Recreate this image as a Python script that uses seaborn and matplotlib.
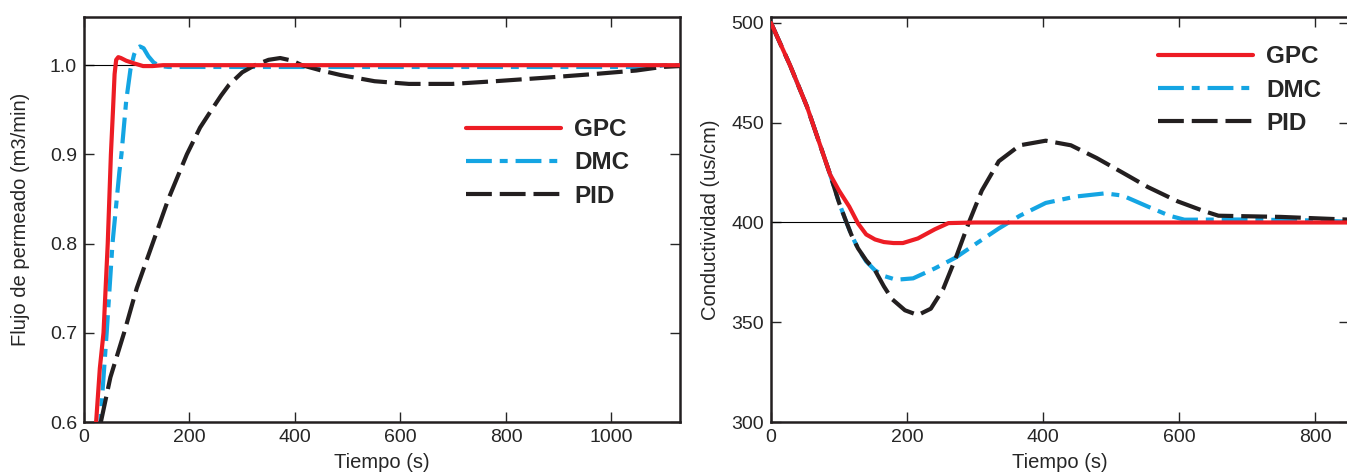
import numpy as np
import pandas as pd
import matplotlib
matplotlib.use("Agg")
import matplotlib.pyplot as plt
import seaborn as sns


# data
# left panel - flujo de permeado
t_gpc_f = [20, 23, 30, 37, 45, 51, 55, 58, 61, 65, 70, 80, 95, 112, 130, 150, 400, 800, 1130]
y_gpc_f = [0.58, 0.60, 0.66, 0.70, 0.80, 0.90, 0.95, 0.99, 1.006, 1.009, 1.008, 1.005, 1.002, 0.999, 0.999, 1.0, 1.0, 1.0, 1.0]

t_dmc_f = [28, 31, 37, 43, 54, 67, 71, 80, 88, 95, 100, 106, 113, 122, 132, 144, 160, 300, 600, 900, 1080, 1100, 1130]
y_dmc_f = [0.58, 0.60, 0.65, 0.70, 0.80, 0.88, 0.90, 0.96, 0.995, 1.012, 1.019, 1.021, 1.019, 1.01, 1.003, 0.999, 0.998, 0.998, 0.998, 0.998, 0.998, 1.0, 1.0]

t_pid_f = [32, 50, 76, 100, 130, 160, 195, 220, 242, 260, 275, 300, 324, 350, 372, 395, 413,
           450, 486, 551, 616, 698, 779, 876, 966, 1047, 1096, 1130]
y_pid_f = [0.60, 0.65, 0.70, 0.75, 0.80, 0.85, 0.90, 0.93, 0.95, 0.966, 0.978, 0.992, 1.0, 1.006, 1.008, 1.005, 1.0,
           0.994, 0.989, 0.982, 0.979, 0.979, 0.982, 0.986, 0.99, 0.994, 0.998, 0.999]

# right panel - conductividad
t_gpc_c = [0, 28, 53, 87, 100, 115, 128, 140, 153, 166, 180, 194, 216, 241, 261, 300, 500, 700, 860]
y_gpc_c = [500, 478.8, 458, 424, 416, 408, 399.5, 394, 391.5, 390.2, 389.7, 389.7, 392, 396.6, 399.7, 400, 400, 400, 400]

t_dmc_c = [0, 28, 53, 87, 100, 109, 118, 128, 140, 153, 168, 184, 209, 241, 272, 303, 335, 366, 404, 448,
           491, 517, 554, 586, 608, 700, 800, 860]
y_dmc_c = [500, 478.8, 458, 424, 410, 401.8, 394, 387, 380.5, 376, 373, 371.3, 372, 377, 382.5, 389.7, 397,
           403.4, 409.8, 413, 414.6, 413.5, 408, 403.4, 401.4, 401.5, 401, 400.3]

t_pid_c = [0, 28, 53, 87, 100, 109, 118, 128, 140, 153, 166, 178, 197, 216, 235, 253, 272, 291, 310, 335,
           366, 404, 441, 479, 517, 554, 598, 636, 658, 750, 860]
y_pid_c = [500, 478.8, 458, 424, 410, 401.8, 394, 387, 381, 376, 368, 361.6, 356, 353.6, 356.8, 366.5,
           382.5, 400, 416, 430.7, 438.7, 441, 438.7, 432.3, 425, 417.8, 410.6, 405.8, 403.4, 402.8, 401.3]

series = ["GPC", "DMC", "PID"]
colors = {"GPC": "#ED1C24", "DMC": "#14A5E3", "PID": "#231F20"}
styles = {"GPC": "-", "DMC": (0, (6.2, 1.9, 1.9, 1.9)), "PID": (0, (6.2, 1.9))}

flujo = {"GPC": (t_gpc_f, y_gpc_f), "DMC": (t_dmc_f, y_dmc_f), "PID": (t_pid_f, y_pid_f)}
cond = {"GPC": (t_gpc_c, y_gpc_c), "DMC": (t_dmc_c, y_dmc_c), "PID": (t_pid_c, y_pid_c)}


sns.set_theme(style="ticks", rc={
    "xtick.direction": "in", "ytick.direction": "in",
    "xtick.top": True, "ytick.right": True,
    "xtick.major.size": 7, "ytick.major.size": 7,
    "xtick.major.width": 1.0, "ytick.major.width": 1.0,
    "xtick.major.pad": 5, "ytick.major.pad": 5,
    "axes.linewidth": 1.8, "axes.edgecolor": "#231F20",
    "xtick.labelsize": 14, "ytick.labelsize": 14, "axes.labelsize": 14.5,
})
plt.rcParams["font.family"] = ["Liberation Sans", "DejaVu Sans"]

fig = plt.figure(figsize=(13.47, 4.73), dpi=100)
W, H = 1347, 473
ax1 = fig.add_axes([84 / W, (H - 422) / H, (680 - 84) / W, (422 - 17) / H])
ax2 = fig.add_axes([771 / W, (H - 422) / H, (1349 - 771) / W, (422 - 17) / H])

# left panel
ax1.axhline(1.0, color="black", lw=0.8, zorder=1)
for s in series:
    t, y = flujo[s]
    df = pd.DataFrame({"t": t, "y": y})
    sns.lineplot(data=df, x="t", y="y", ax=ax1, color=colors[s], linestyle=styles[s],
                 linewidth=3, label=s, sort=False, zorder=3 if s == "GPC" else 2)
ax1.set_xlim(0, 1130)
ax1.set_ylim(0.6, 1.054)
ax1.set_xticks([0, 200, 400, 600, 800, 1000])
ax1.set_yticks([0.6, 0.7, 0.8, 0.9, 1.0])
ax1.set_xlabel("Tiempo (s)", labelpad=5)
ax1.set_ylabel("Flujo de permeado (m3/min)", labelpad=14)

# right panel
ax2.axhline(400, color="black", lw=0.8, zorder=1)
for s in series:
    t, y = cond[s]
    df = pd.DataFrame({"t": t, "y": y})
    sns.lineplot(data=df, x="t", y="y", ax=ax2, color=colors[s], linestyle=styles[s],
                 linewidth=3, label=s, sort=False, zorder=3 if s == "GPC" else 2)
ax2.set_xlim(0, 850)
ax2.set_ylim(300, 503)
ax2.set_xticks([0, 200, 400, 600, 800])
ax2.set_yticks([300, 350, 400, 450, 500])
ax2.set_xlabel("Tiempo (s)", labelpad=5)
ax2.set_ylabel("Conductividad (us/cm)", labelpad=8)

leg_kw = dict(frameon=False, loc="upper left", borderaxespad=0, borderpad=0,
              handlelength=3.9, handletextpad=0.55, labelspacing=0.42,
              prop={"weight": "bold", "size": 17.5})
ax1.legend(bbox_to_anchor=(0.641, 0.75), **leg_kw)
ax2.legend(bbox_to_anchor=(0.67, 0.93), **leg_kw)

fig.savefig("out.png", dpi=100)
